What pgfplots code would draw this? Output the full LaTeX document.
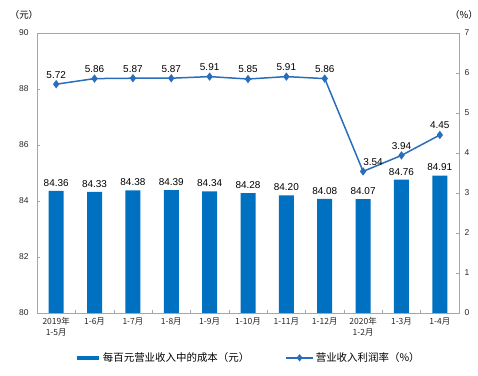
\documentclass[border=0pt]{standalone}
\usepackage{fontspec}
\setmainfont{Liberation Sans}
\newfontfamily\cjk{Noto Sans CJK SC}
\usepackage{pgfplots}
\usepackage{pgfplotstable}
\pgfplotsset{compat=1.18}
\definecolor{barblue}{HTML}{0070C0}
\definecolor{lineblue}{HTML}{2A6EBB}
\definecolor{axgray}{HTML}{A6A6A6}
\pgfplotstableread{
x y
0 84.36
1 84.33
2 84.38
3 84.39
4 84.34
5 84.28
6 84.20
7 84.08
8 84.07
9 84.76
10 84.91
}\costdata
\pgfplotstableread{
x y dx
0 5.72 0
1 5.86 0
2 5.87 0
3 5.87 0
4 5.91 0
5 5.85 0
6 5.91 0
7 5.86 0
8 3.54 10
9 3.94 0
10 4.45 0
}\profitdata
\pgfplotsset{/pgf/number format/assume math mode=true}
\begin{document}
\begin{tikzpicture}
\begin{axis}[
  name=ax1,
  at={(0,0)}, anchor=south west,
  scale only axis, width=422bp, height=280bp,
  xmin=-0.5, xmax=10.5, ymin=80, ymax=90,
  ytick={80,82,...,90},
  ytick pos=left,
  xtick={0,...,10},
  xtick pos=bottom,
  major x tick style={draw=none},
  minor xtick={0.5,1.5,...,9.5},
  minor tick length=2.5bp,
  major tick length=3bp,
  xticklabels={{2019年\\1-5月},1-6月,1-7月,1-8月,1-9月,1-10月,1-11月,1-12月,{2020年\\1-2月},1-3月,1-4月},
  xticklabel style={font=\cjk\fontsize{8.5}{10.5}\selectfont, align=center, text=black!85, anchor=north, yshift=-1bp},
  yticklabel style={font=\fontsize{8.5}{10}\selectfont, text=black!85, xshift=-5bp},
  axis line style={axgray},
  every tick/.style={axgray},
]
\addplot[ybar, bar width=15bp, fill=barblue, draw=none,
  nodes near coords={\pgfmathprintnumber[fixed,fixed zerofill,precision=2]{\pgfplotspointmeta}},
  every node near coord/.append style={font=\fontsize{10}{12}\selectfont, text=black, yshift=1bp}]
  table[x=x,y=y] {\costdata};
\end{axis}
\node[font=\cjk\fontsize{9.5}{11}\selectfont] at ([xshift=-13bp,yshift=18bp]ax1.north west) {（元）};
\node[font=\cjk\fontsize{9.5}{11}\selectfont] at ([xshift=5bp,yshift=18bp]ax1.north east) {（\%）};
\begin{axis}[
  at={(0,0)}, anchor=south west,
  scale only axis, width=422bp, height=280bp,
  xmin=-0.5, xmax=10.5, ymin=0, ymax=7,
  axis y line*=right, axis x line=none,
  ytick={0,...,7},
  major tick length=3bp,
  yticklabel style={font=\fontsize{8.5}{10}\selectfont, text=black!85, xshift=2bp},
  axis line style={axgray},
  every tick/.style={axgray},
  legend style={at={(0.5,-0.16)}, anchor=center, draw=none, legend columns=2,
    font=\cjk\fontsize{10.5}{12}\selectfont, /tikz/every even column/.append style={column sep=34bp}},
]
\addlegendimage{legend image code/.code={\draw[barblue, line width=4.5bp] (0bp,0bp) -- (22bp,0bp);}}
\addlegendentry{每百元营业收入中的成本（元）}
\addplot[lineblue, line width=1.5bp, mark=diamond*, mark size=3bp, mark options={fill=lineblue},
  nodes near coords={\pgfmathprintnumber[fixed,fixed zerofill,precision=2]{\pgfplotspointmeta}},
  visualization depends on={\thisrow{dx} \as \dx},
  every node near coord/.append style={font=\fontsize{10}{12}\selectfont, text=black, xshift=\dx bp, yshift=2bp},
  legend image code/.code={\draw[lineblue, line width=1.5bp] (0bp,0bp) -- (27bp,0bp); \fill[lineblue] (13.5bp,0bp) +(0,2.5bp) -- +(2bp,0) -- +(0,-2.5bp) -- +(-2bp,0) -- cycle;}]
  table[x=x,y=y] {\profitdata};
\addlegendentry{营业收入利润率（\%）}
\end{axis}
\pgfresetboundingbox
\path[use as bounding box] (-37bp,-63bp) rectangle (441bp,313bp);
\end{tikzpicture}
\end{document}
